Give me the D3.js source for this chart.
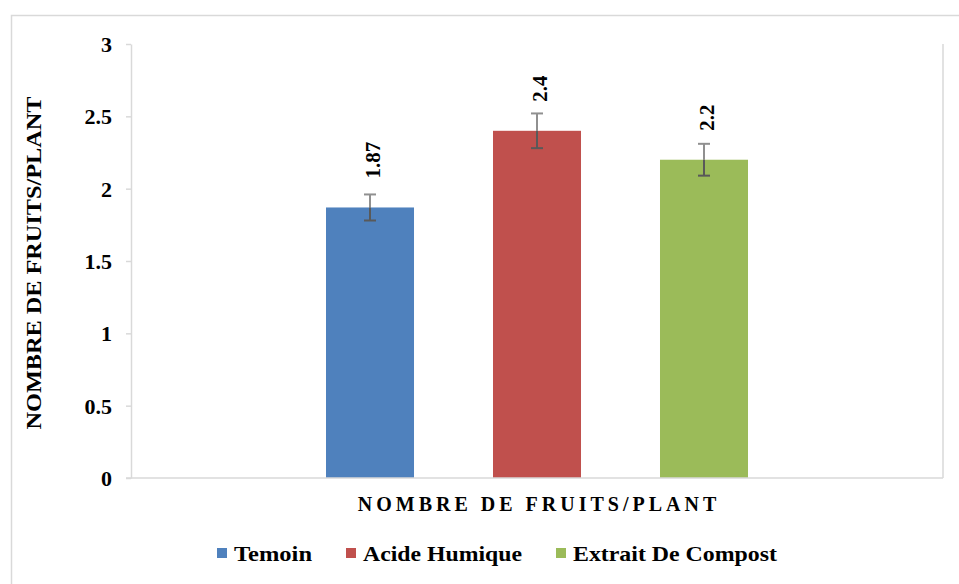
<!DOCTYPE html>
<html>
<head>
<meta charset="utf-8">
<script src="https://cdn.jsdelivr.net/npm/d3@7"></script>
<style>
  html, body { margin: 0; padding: 0; background: #fff; }
  svg { display: block; }
</style>
</head>
<body>
<svg id="chart" width="959" height="584"></svg>
<script>
// ---- data ----
const categories = ["NOMBRE DE FRUITS/PLANT"];
const seriesNames = ["Temoin", "Acide Humique", "Extrait De Compost"];
const seriesValues = [1.87, 2.4, 2.2];
const seriesErrors = [0.09, 0.12, 0.11];
const seriesColors = ["#4f81bd", "#c0504d", "#9bbb59"];
const yTickValues = [0, 0.5, 1, 1.5, 2, 2.5, 3];
const yTickLabels = ["0", "0.5", "1", "1.5", "2", "2.5", "3"];
const yAxisTitle = "NOMBRE DE FRUITS/PLANT";

// ---- layout ----
const FONT = "'Liberation Serif', 'Times New Roman', serif";
const plot = { left: 131, right: 943, top: 44, bottom: 478 };
const svg = d3.select("#chart");
const grid = "#d9d9d9";

function txt(sel, size) {
  return sel.style("font-family", FONT).style("font-weight", "bold")
    .style("font-size", size + "px").style("fill", "#000");
}

// outer chart border (extends beyond the window)
svg.append("rect").attr("x", 11.5).attr("y", 15.5).attr("width", 990).attr("height", 600)
  .attr("fill", "#fff").attr("stroke", grid).attr("stroke-width", 1.5);

const y = d3.scaleLinear().domain([0, 3]).range([plot.bottom, plot.top]);
const x0 = d3.scaleBand().domain(categories).range([plot.left, plot.right])
  .paddingInner(0).paddingOuter(0.3104);
const pi = 0.473;
const x1 = d3.scaleBand().domain(seriesNames).range([0, x0.bandwidth()])
  .paddingInner(pi).paddingOuter(pi / 2);

// right plot border
svg.append("line").attr("x1", plot.right).attr("x2", plot.right)
  .attr("y1", plot.top).attr("y2", plot.bottom).attr("stroke", grid).attr("stroke-width", 1.5);

// y axis
const yAxis = d3.axisLeft(y).tickValues(yTickValues)
  .tickFormat((d, i) => yTickLabels[i]).tickSizeInner(5).tickSizeOuter(0).tickPadding(14);
const gy = svg.append("g").attr("transform", `translate(${plot.left},0)`).call(yAxis);
gy.attr("font-family", null).attr("font-size", null);
gy.select(".domain").attr("stroke", grid).attr("stroke-width", 1.5);
gy.selectAll(".tick line").attr("stroke", grid).attr("stroke-width", 1.5);
txt(gy.selectAll(".tick text"), 22).attr("dy", "0.34em");

// bars
const rows = seriesNames.map((s, i) => ({ s, v: seriesValues[i], e: seriesErrors[i], c: seriesColors[i] }));
const g = svg.append("g").attr("transform", `translate(${x0(categories[0])},0)`);
g.selectAll("rect.bar").data(rows).enter().append("rect").attr("class", "bar")
  .attr("x", d => x1(d.s)).attr("width", x1.bandwidth())
  .attr("y", d => y(d.v)).attr("height", d => y(0) - y(d.v)).attr("fill", d => d.c);

// x axis line
svg.append("line").attr("x1", plot.left - 5).attr("x2", plot.right)
  .attr("y1", plot.bottom).attr("y2", plot.bottom).attr("stroke", grid).attr("stroke-width", 1.5);

// error bars
const cx = d => x1(d.s) + x1.bandwidth() / 2;
const capW = 6;
const eb = g.selectAll("g.err").data(rows).enter().append("g").attr("class", "err");
eb.append("line").attr("x1", cx).attr("x2", cx)
  .attr("y1", d => y(d.v + d.e)).attr("y2", d => y(d.v)).attr("stroke", "#909090").attr("stroke-width", 2);
eb.append("line").attr("x1", cx).attr("x2", cx)
  .attr("y1", d => y(d.v)).attr("y2", d => y(d.v - d.e)).attr("stroke", "#595959").attr("stroke-width", 2);
eb.append("line").attr("x1", d => cx(d) - capW).attr("x2", d => cx(d) + capW)
  .attr("y1", d => y(d.v + d.e)).attr("y2", d => y(d.v + d.e)).attr("stroke", "#909090").attr("stroke-width", 2);
eb.append("line").attr("x1", d => cx(d) - capW).attr("x2", d => cx(d) + capW)
  .attr("y1", d => y(d.v - d.e)).attr("y2", d => y(d.v - d.e)).attr("stroke", "#595959").attr("stroke-width", 2);

// data labels (rotated)
txt(g.selectAll("text.lbl").data(rows).enter().append("text").attr("class", "lbl")
  .attr("transform", d => `translate(${cx(d) + 3},${y(d.v) - 29}) rotate(-90)`)
  .attr("text-anchor", "start").attr("dy", "0.35em")
  .text(d => String(d.v)), 21);

// y axis title
txt(svg.append("text")
  .attr("transform", `translate(41,${(plot.top + plot.bottom) / 2 + 2}) rotate(-90)`)
  .attr("text-anchor", "middle")
  .attr("textLength", 333).attr("lengthAdjust", "spacingAndGlyphs")
  .text(yAxisTitle), 22);

// x axis title
txt(svg.append("text").attr("x", x0(categories[0]) + x0.bandwidth() / 2 + 2).attr("y", 511)
  .attr("text-anchor", "middle").style("letter-spacing", "4px")
  .text(categories[0]), 20);

// legend
const legendWidths = [78, 159, 204];
const sq = 10, gapSq = 7, gapItem = 34;
const total = d3.sum(legendWidths) + seriesNames.length * (sq + gapSq) + gapItem * (seriesNames.length - 1);
let lx = 497 - total / 2;
const legY = 561;
seriesNames.forEach((s, i) => {
  svg.append("rect").attr("x", lx).attr("y", legY - 13).attr("width", sq).attr("height", sq)
    .attr("fill", seriesColors[i]);
  txt(svg.append("text").attr("x", lx + sq + gapSq).attr("y", legY)
    .attr("textLength", legendWidths[i]).attr("lengthAdjust", "spacingAndGlyphs").text(s), 22);
  lx += sq + gapSq + legendWidths[i] + gapItem;
});
</script>
</body>
</html>
